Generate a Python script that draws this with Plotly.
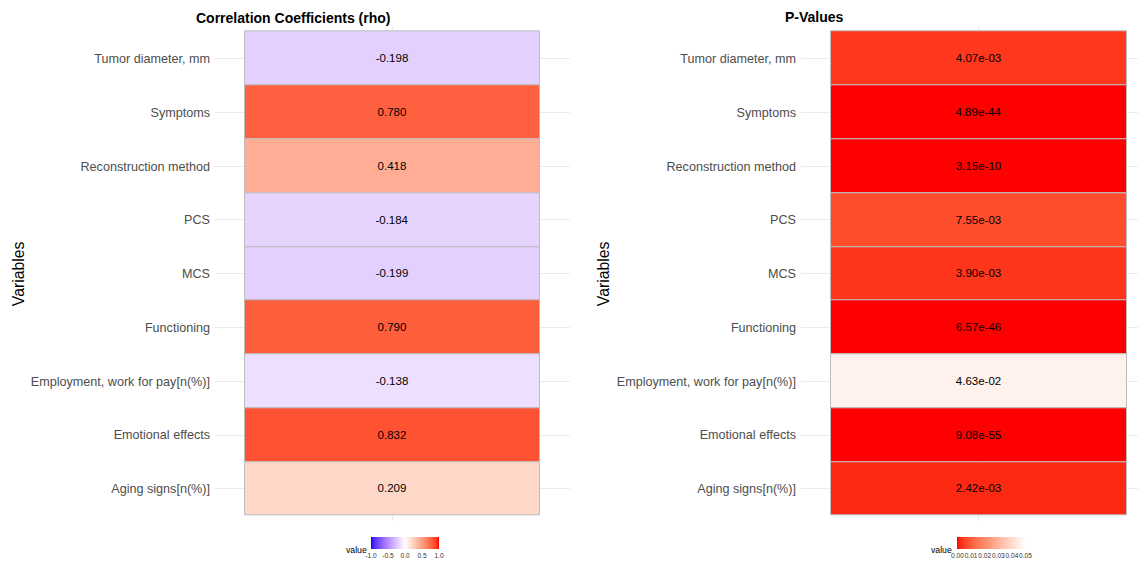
import plotly.graph_objects as go

# ---------------- data ----------------
variables = [
    "Tumor diameter, mm",
    "Symptoms",
    "Reconstruction method",
    "PCS",
    "MCS",
    "Functioning",
    "Employment, work for pay[n(%)]",
    "Emotional effects",
    "Aging signs[n(%)]",
]
rho = [-0.198, 0.780, 0.418, -0.184, -0.199, 0.790, -0.138, 0.832, 0.209]
p_values = [4.07e-03, 4.89e-44, 3.15e-10, 7.55e-03, 3.90e-03, 6.57e-46, 4.63e-02, 9.08e-55, 2.42e-03]
rho_ticks = [-1.0, -0.5, 0.0, 0.5, 1.0]
p_ticks = [0.00, 0.01, 0.02, 0.03, 0.04, 0.05]

# category order bottom -> top (ggplot factor order)
cat_order = sorted(variables)

# page has an 8px body margin: figure sits at (8, 8) inside the 1146x564 window
OX, OY = 8, 8
W, H = 1146 - OX, 564 - OY


def px(x):
    return (x - OX) / W


def py(y):
    return 1 - (y - OY) / H


# ---------------- Lab colour interpolation (like ggplot scales) ----------------
def _srgb_to_lin(c):
    c = c / 255.0
    return c / 12.92 if c <= 0.04045 else ((c + 0.055) / 1.055) ** 2.4


def _lin_to_srgb(c):
    c = max(0.0, min(1.0, c))
    v = 12.92 * c if c <= 0.0031308 else 1.055 * c ** (1 / 2.4) - 0.055
    return int(round(max(0, min(1, v)) * 255))


XN, YN, ZN = 0.95047, 1.0, 1.08883


def rgb_to_lab(rgb):
    r, g, b = [_srgb_to_lin(v) for v in rgb]
    x = (0.4124 * r + 0.3576 * g + 0.1805 * b) / XN
    y = (0.2126 * r + 0.7152 * g + 0.0722 * b) / YN
    z = (0.0193 * r + 0.1192 * g + 0.9505 * b) / ZN

    def f(t):
        return t ** (1 / 3) if t > 0.008856 else 7.787 * t + 16 / 116

    fx, fy, fz = f(x), f(y), f(z)
    return (116 * fy - 16, 500 * (fx - fy), 200 * (fy - fz))


def lab_to_rgb(lab):
    L, a, b = lab
    fy = (L + 16) / 116
    fx = fy + a / 500
    fz = fy - b / 200

    def finv(t):
        return t ** 3 if t ** 3 > 0.008856 else (t - 16 / 116) / 7.787

    x, y, z = finv(fx) * XN, finv(fy) * YN, finv(fz) * ZN
    r = 3.2406 * x - 1.5372 * y - 0.4986 * z
    g = -0.9689 * x + 1.8758 * y + 0.0415 * z
    bb = 0.0557 * x - 0.2040 * y + 1.0570 * z
    return (_lin_to_srgb(r), _lin_to_srgb(g), _lin_to_srgb(bb))


def lab_scale(stops_rgb, n=41):
    labs = [rgb_to_lab(c) for c in stops_rgb]
    segs = len(labs) - 1
    out = []
    for i in range(n):
        t = i / (n - 1)
        pos = t * segs
        k = min(int(pos), segs - 1)
        u = pos - k
        l0, l1 = labs[k], labs[k + 1]
        lab = tuple(l0[j] + (l1[j] - l0[j]) * u for j in range(3))
        r, g, b = lab_to_rgb(lab)
        out.append([t, f"rgb({r},{g},{b})"])
    return out


rho_scale = lab_scale([(0, 0, 255), (255, 255, 255), (255, 0, 0)])
p_scale = lab_scale([(255, 0, 0), (255, 255, 255)])

# ---------------- styling ----------------
GRID = "#EBEBEB"
TILE_LINE = "#BDBDBD"
TICK_COL = "#4D4D4D"
FONT = "Liberation Sans, Arial, sans-serif"

panel_top, panel_bot = 26.3, 521.1
ydom = [py(panel_bot), py(panel_top)]
x1dom = [px(215), px(570)]
x2dom = [px(801), 1.0]

fig = go.Figure()


def cbar(xc, ticks, fmt):
    return dict(
        orientation="h", lenmode="pixels", len=68, thickness=12,
        x=px(xc), xanchor="center", y=py(537), yanchor="top",
        xpad=0, ypad=0, outlinewidth=0,
        tickvals=ticks, ticktext=[fmt.format(v) for v in ticks], tickangle=0,
        ticks="outside", ticklen=2, tickcolor="white",
        tickfont=dict(size=6.6, color="#333333", family=FONT),
    )


fig.add_trace(go.Bar(
    y=variables, x=[1] * len(variables), base=-0.5, width=1,
    orientation="h",
    text=[f"{v:.3f}" for v in rho],
    textposition="inside", insidetextanchor="middle", textangle=0,
    constraintext="none",
    textfont=dict(color="black", size=11.5, family=FONT),
    marker=dict(
        color=rho, colorscale=rho_scale, cmin=-1, cmax=1,
        line=dict(color=TILE_LINE, width=1),
        showscale=True,
        colorbar=cbar(405, rho_ticks, "{:.1f}"),
    ),
    xaxis="x", yaxis="y", showlegend=False, hoverinfo="skip",
))

fig.add_trace(go.Bar(
    y=variables, x=[1] * len(variables), base=-0.5, width=1,
    orientation="h",
    text=[f"{v:.2e}" for v in p_values],
    textposition="inside", insidetextanchor="middle", textangle=0,
    constraintext="none",
    textfont=dict(color="black", size=11.5, family=FONT),
    marker=dict(
        color=p_values, colorscale=p_scale, cmin=0, cmax=0.05,
        line=dict(color=TILE_LINE, width=1),
        showscale=True,
        colorbar=cbar(991.5, p_ticks, "{:.2f}"),
    ),
    xaxis="x2", yaxis="y2", showlegend=False, hoverinfo="skip",
))

xcommon = dict(tickvals=[0], showticklabels=False, showgrid=True, gridcolor=GRID,
               gridwidth=1, zeroline=False, showline=False, ticks="", fixedrange=True)
ycommon = dict(type="category", categoryorder="array", categoryarray=cat_order,
               range=[-0.6, len(variables) - 0.4], showgrid=True, gridcolor=GRID,
               gridwidth=1, zeroline=False, showline=False, ticks="",
               ticklabelstandoff=4,
               tickfont=dict(size=12.6, color=TICK_COL, family=FONT), domain=ydom)

fig.update_layout(
    width=W, height=H,
    margin=dict(l=0, r=0, t=0, b=0, autoexpand=False),
    paper_bgcolor="white", plot_bgcolor="white",
    bargap=0,
    font=dict(family=FONT),
    xaxis=dict(domain=x1dom, range=[-0.6, 0.6], anchor="y", **xcommon),
    xaxis2=dict(domain=x2dom, range=[-0.6, -0.6 + (1146 - 801) / 296.4], anchor="y2", **xcommon),
    yaxis=dict(anchor="x", **ycommon),
    yaxis2=dict(anchor="x2", **ycommon),
    annotations=[
        dict(text="<b>Correlation Coefficients (rho)</b>", x=px(292.7), y=py(8.5),
             xref="paper", yref="paper", showarrow=False, xanchor="center", yanchor="top",
             borderpad=0, font=dict(size=14, color="black", family=FONT)),
        dict(text="<b>P-Values</b>", x=px(814.5), y=py(8.5),
             xref="paper", yref="paper", showarrow=False, xanchor="center", yanchor="top",
             borderpad=0, font=dict(size=14, color="black", family=FONT)),
        dict(text="Variables", x=px(18.5), y=py(273.7), textangle=-90,
             xref="paper", yref="paper", showarrow=False, xanchor="center", yanchor="middle",
             font=dict(size=15.8, color="black", family=FONT)),
        dict(text="Variables", x=px(603.5), y=py(273.7), textangle=-90,
             xref="paper", yref="paper", showarrow=False, xanchor="center", yanchor="middle",
             font=dict(size=15.8, color="black", family=FONT)),
        dict(text="value", x=px(356), y=py(550),
             xref="paper", yref="paper", showarrow=False, xanchor="center", yanchor="middle",
             borderpad=0, font=dict(size=8.7, color="black", family=FONT)),
        dict(text="value", x=px(941.5), y=py(550),
             xref="paper", yref="paper", showarrow=False, xanchor="center", yanchor="middle",
             borderpad=0, font=dict(size=8.7, color="black", family=FONT)),
    ],
)

fig.write_html("out.html")
